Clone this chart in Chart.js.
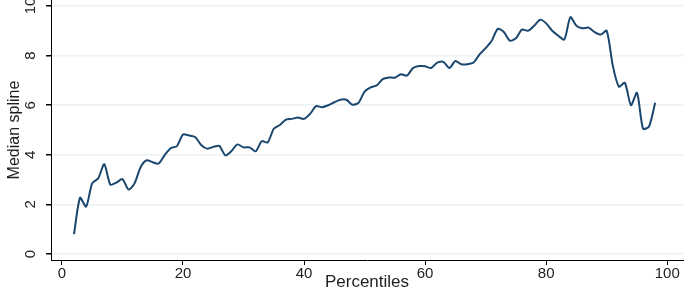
<!DOCTYPE html>
<html>
<head>
<meta charset="utf-8">
<script src="https://cdn.jsdelivr.net/npm/chart.js@4"></script>
<style>
  html, body { margin: 0; padding: 0; background: #fff; }
  #wrap { width: 685px; height: 291px; }
</style>
</head>
<body>
<div id="wrap"><canvas id="chart"></canvas></div>
<script>
// percentiles 2..98
const percentiles = [
  2, 3, 4, 5, 6, 7, 8, 9, 10, 11, 12, 13, 14, 15, 16, 17, 18, 19, 20,
  21, 22, 23, 24, 25, 26, 27, 28, 29, 30, 31, 32, 33, 34, 35, 36, 37, 38, 39, 40,
  41, 42, 43, 44, 45, 46, 47, 48, 49, 50, 51, 52, 53, 54, 55, 56, 57, 58, 59, 60,
  61, 62, 63, 64, 65, 66, 67, 68, 69, 70, 71, 72, 73, 74, 75, 76, 77, 78, 79, 80,
  81, 82, 83, 84, 85, 86, 87, 88, 89, 90, 91, 92, 93, 94, 95, 96, 97, 98
];
const medianSpline = [
  0.8, 2.27, 1.91, 2.85, 3.05, 3.62, 2.8, 2.88, 3.02, 2.6, 2.85, 3.5, 3.78, 3.7, 3.65, 4.0, 4.27, 4.35, 4.82,
  4.78, 4.72, 4.4, 4.25, 4.32, 4.36, 3.98, 4.15, 4.42, 4.3, 4.3, 4.14, 4.55, 4.5, 5.05, 5.2, 5.42, 5.45, 5.5, 5.45,
  5.65, 5.96, 5.92, 6.0, 6.12, 6.22, 6.22, 6.02, 6.1, 6.55, 6.72, 6.8, 7.05, 7.12, 7.11, 7.25, 7.19, 7.5, 7.58, 7.57,
  7.5, 7.72, 7.75, 7.5, 7.78, 7.65, 7.65, 7.72, 8.05, 8.3, 8.6, 9.08, 8.95, 8.6, 8.7, 9.05, 9.0, 9.2, 9.45, 9.3,
  9.0, 8.8, 8.65, 9.55, 9.2, 9.1, 9.13, 8.95, 8.85, 9.0, 7.6, 6.75, 6.9, 6.0, 6.5, 5.05, 5.15, 6.1
];
const xTicks = [0, 20, 40, 60, 80, 100];
const yTicks = [0, 2, 4, 6, 8, 10];

const points = percentiles.map((p, i) => ({ x: p, y: medianSpline[i] }));

// stata style: y labels turned on their side
const rotatedYLabels = {
  id: "rotatedYLabels",
  afterDraw(chart) {
    const ctx = chart.ctx;
    const yScale = chart.scales.y;
    ctx.save();
    ctx.fillStyle = "#1e1e1e";
    ctx.font = "15px 'Liberation Sans', Arial, sans-serif";
    ctx.textAlign = "center";
    ctx.textBaseline = "middle";
    yScale.ticks.forEach((t) => {
      const py = yScale.getPixelForValue(t.value);
      ctx.save();
      ctx.translate(31, py);
      ctx.rotate(-Math.PI / 2);
      ctx.fillText(String(t.value), 0, 0);
      ctx.restore();
    });
    ctx.restore();
  },
};

new Chart(document.getElementById("chart"), {
  type: "line",
  data: {
    datasets: [
      {
        label: "Median spline",
        data: points,
        borderColor: "#1a476f",
        borderWidth: 2,
        pointRadius: 0,
        tension: 0.25,
        fill: false,
      },
    ],
  },
  options: {
    responsive: true,
    maintainAspectRatio: false,
    animation: false,
    layout: { padding: { left: 0, right: 2, top: 0, bottom: 0 } },
    plugins: {
      legend: { display: false },
      tooltip: { enabled: false },
    },
    scales: {
      x: {
        type: "linear",
        min: -1.8,
        max: 102.6,
        afterBuildTicks: (scale) => {
          scale.ticks = xTicks.map((v) => ({ value: v }));
        },
        afterFit: (scale) => {
          scale.height = 31;
        },
        grid: {
          drawOnChartArea: false,
          drawTicks: true,
          tickLength: 5,
          tickColor: "#000",
        },
        border: { display: true, color: "#000", width: 1 },
        ticks: {
          color: "#1e1e1e",
          padding: 0,
          maxRotation: 0,
          font: { family: "'Liberation Sans', Arial, sans-serif", size: 15 },
        },
        title: {
          display: true,
          text: "Percentiles",
          color: "#1e1e1e",
          padding: { top: -6, bottom: -2 },
          font: { family: "'Liberation Sans', Arial, sans-serif", size: 17 },
        },
      },
      y: {
        type: "linear",
        min: -0.24,
        max: 10.24,
        afterBuildTicks: (scale) => {
          scale.ticks = yTicks.map((v) => ({ value: v }));
        },
        afterFit: (scale) => {
          scale.width = 51;
        },
        grid: {
          color: "#eaf2f3",
          lineWidth: 1.5,
          drawTicks: true,
          tickLength: 5,
          tickColor: "#000",
        },
        border: { display: true, color: "#000", width: 1 },
        ticks: {
          color: "rgba(0,0,0,0)",
          padding: 0,
          font: { size: 1, lineHeight: 0.1 },
        },
        title: {
          display: true,
          text: "Median spline",
          color: "#1e1e1e",
          padding: { top: 5, bottom: 0 },
          font: { family: "'Liberation Sans Narrow', 'Arial Narrow', sans-serif", size: 16 },
        },
      },
    },
  },
  plugins: [rotatedYLabels],
});
</script>
</body>
</html>
